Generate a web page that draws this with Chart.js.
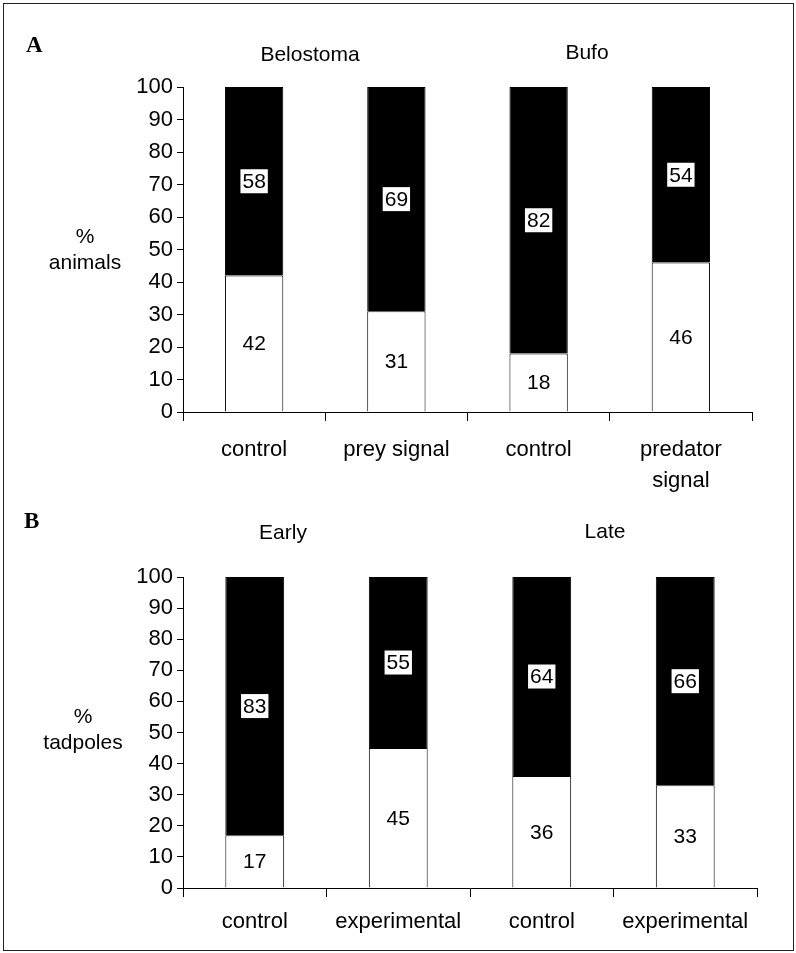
<!DOCTYPE html>
<html>
<head>
<meta charset="utf-8">
<script src="https://cdn.jsdelivr.net/npm/chart.js@4"></script>
<style>
  html, body { margin: 0; padding: 0; background: #fff; }
  #frame { position: absolute; left: 3px; top: 3px; width: 789px; height: 946px; border: 1px solid #222; }
  canvas { position: absolute; left: 0; }
  #panelA { top: 0; }
  #panelB { top: 490px; }
</style>
</head>
<body>
<div id="frame"></div>
<canvas id="panelA" width="796" height="500"></canvas>
<canvas id="panelB" width="796" height="463"></canvas>
<script>
// Datos del panel A
const categoriasA = ['control', 'prey signal', 'control', ['predator', 'signal']];
const blancoA = [42, 31, 18, 46];
const negroA = [58, 69, 82, 54];
const etiquetasNegroA = [58, 69, 82, 54];

// Datos del panel B (la ultima barra llega a 100 en la figura aunque dice 66)
const categoriasB = ['control', 'experimental', 'control', 'experimental'];
const blancoB = [17, 45, 36, 33];
const negroB = [83, 55, 64, 67];
const etiquetasNegroB = [83, 55, 64, 66];

const ticksY = [0, 10, 20, 30, 40, 50, 60, 70, 80, 90, 100];

const fuente = '"Liberation Sans", Arial, sans-serif';

// Etiquetas de valor en cada segmento
const etiquetasPlugin = {
    id: 'etiquetas',
    afterDatasetsDraw(chart, args, opts) {
        const ctx = chart.ctx;
        ctx.save();
        ctx.font = '21px ' + fuente;
        ctx.textAlign = 'center';
        ctx.textBaseline = 'middle';
        chart.data.datasets.forEach((ds, i) => {
            const meta = chart.getDatasetMeta(i);
            meta.data.forEach((bar, j) => {
                const cy = (bar.y + bar.base) / 2;
                const txt = String(i === 1 ? opts.negro[j] : ds.data[j]);
                if (i === 1) {
                    const w = ctx.measureText(txt).width + 4;
                    ctx.fillStyle = '#fff';
                    ctx.fillRect(bar.x - w / 2, cy - 12, w, 24);
                }
                ctx.fillStyle = '#000';
                ctx.fillText(txt, bar.x, cy + 1);
            });
        });
        ctx.restore();
    }
};

// Textos extra: letra del panel, titulos de grupo y titulo del eje
const textosPlugin = {
    id: 'textos',
    afterDraw(chart, args, opts) {
        const ctx = chart.ctx;
        ctx.save();
        ctx.fillStyle = '#000';
        ctx.textBaseline = 'middle';
        ctx.textAlign = 'left';
        ctx.font = 'bold 23px "Liberation Serif", "Times New Roman", serif';
        ctx.fillText(opts.letra[0], opts.letra[1], opts.letra[2]);
        ctx.textAlign = 'center';
        ctx.font = '21px ' + fuente;
        opts.grupos.forEach(g => ctx.fillText(g[0], g[1], g[2]));
        opts.ejeY.forEach(g => ctx.fillText(g[0], g[1], g[2]));
        ctx.restore();
    }
};

function crearPanel(canvas, categorias, blanco, negro, etiquetasNegro, conf) {
    return new Chart(canvas, {
        type: 'bar',
        data: {
            labels: categorias,
            datasets: [
                { data: blanco, backgroundColor: '#fff', borderColor: '#000', borderWidth: 1,
                  categoryPercentage: 1, barPercentage: 0.41 },
                { data: negro, backgroundColor: '#000', borderColor: '#000', borderWidth: 1,
                  categoryPercentage: 1, barPercentage: 0.41 }
            ]
        },
        options: {
            responsive: false,
            animation: false,
            layout: { padding: { top: conf.top, right: conf.right, left: 0, bottom: 0 } },
            plugins: {
                legend: { display: false },
                tooltip: { enabled: false },
                etiquetas: { negro: etiquetasNegro },
                textos: conf.textos
            },
            scales: {
                x: {
                    stacked: true,
                    afterFit(s) { s.height = conf.alturaX; },
                    border: { display: true, color: '#000', width: 1 },
                    grid: { drawOnChartArea: false, color: '#000', tickLength: 9 },
                    ticks: { color: '#000', padding: conf.padX, maxRotation: 0,
                             font: { family: fuente, size: 22, lineHeight: 1.4 } }
                },
                y: {
                    stacked: true,
                    min: 0, max: 100,
                    afterFit(s) { s.width = 183; },
                    afterBuildTicks(s) { s.ticks = ticksY.map(v => ({ value: v })); },
                    border: { display: true, color: '#000', width: 1 },
                    grid: { drawOnChartArea: false, color: '#000', tickLength: 6 },
                    ticks: { color: '#000', padding: 4, font: { family: fuente, size: 22 } }
                }
            }
        },
        plugins: [etiquetasPlugin, textosPlugin]
    });
}

crearPanel(document.getElementById('panelA'), categoriasA, blancoA, negroA, etiquetasNegroA, {
    top: 87, right: 44, alturaX: 88, padX: 14,
    textos: {
        letra: ['A', 26, 46],
        grupos: [['Belostoma', 310, 55], ['Bufo', 587, 53]],
        ejeY: [['%', 85, 237], ['animals', 85, 263]]
    }
});

crearPanel(document.getElementById('panelB'), categoriasB, blancoB, negroB, etiquetasNegroB, {
    top: 87, right: 39, alturaX: 65, padX: 10,
    textos: {
        letra: ['B', 24, 32],
        grupos: [['Early', 283, 43], ['Late', 605, 42]],
        ejeY: [['%', 83, 227], ['tadpoles', 83, 253]]
    }
});
</script>
</body>
</html>
